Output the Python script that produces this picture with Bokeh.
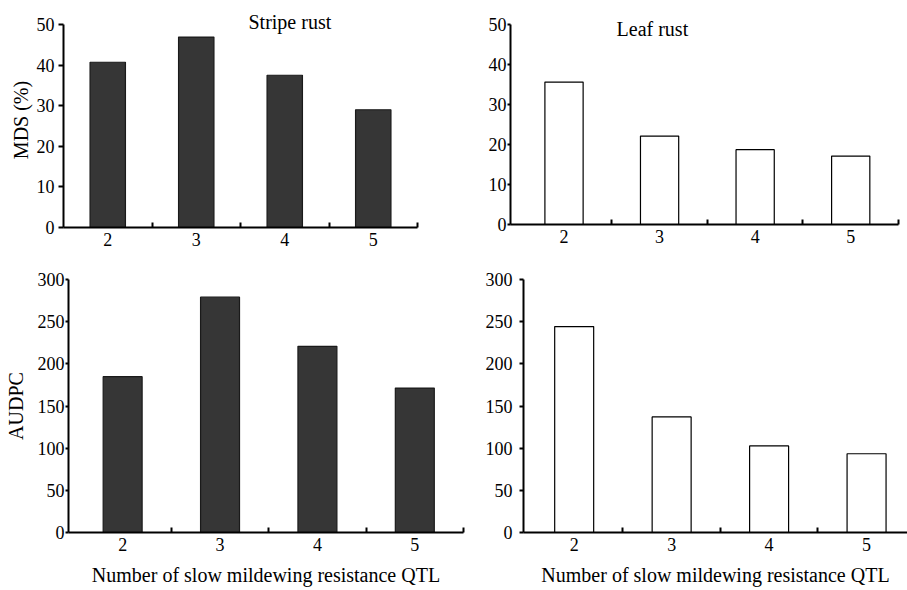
from bokeh.plotting import figure
from bokeh.layouts import row, column
from bokeh.models import Range1d, FixedTicker, Label
from bokeh.embed import file_html
from bokeh.resources import INLINE

# ---- data ----
qtl = [2, 3, 4, 5]
qtl_labels = ["2", "3", "4", "5"]
mds_stripe = [40.7, 46.9, 37.5, 29.0]
mds_leaf = [35.6, 22.1, 18.7, 17.1]
audpc_stripe = [184.8, 279.0, 220.8, 171.3]
audpc_leaf = [244.2, 137.0, 102.6, 93.4]
mds_ticks = [0, 10, 20, 30, 40, 50]
audpc_ticks = [0, 50, 100, 150, 200, 250, 300]
boundaries = [2.5, 3.5, 4.5, 5.5]

FONT = "'Liberation Serif', 'Times New Roman', serif"


def make_panel(values, fill, xr, yr, ybounds, yticks, geom, ytick, ylabel=None, xlabel=None):
    mbl, fw, mbr, mbt, fh, mbb = geom
    tick_out, lab_stand, ax_stand = ytick
    p = figure(frame_width=fw, frame_height=fh, x_range=Range1d(*xr), y_range=Range1d(*yr),
               output_backend="svg", toolbar_location=None,
               min_border_left=mbl, min_border_right=mbr, min_border_top=mbt, min_border_bottom=mbb)
    p.outline_line_color = None
    p.xgrid.visible = False
    p.ygrid.visible = False
    p.vbar(x=qtl, top=values, width=0.4, bottom=0, fill_color=fill,
           line_color="#1a1a1a" if fill != "white" else "black", line_width=1.2)

    xa = p.xaxis[0]
    xa.ticker = FixedTicker(ticks=qtl, minor_ticks=boundaries)
    xa.major_label_overrides = {q: s for q, s in zip(qtl, qtl_labels)}
    xa.axis_line_width = 2
    xa.axis_line_color = "black"
    xa.major_tick_in = 0
    xa.major_tick_out = 0
    xa.minor_tick_in = 5
    xa.minor_tick_out = 0
    xa.minor_tick_line_width = 2
    xa.minor_tick_line_color = "black"
    xa.major_label_standoff = 5
    xa.major_label_text_font = FONT
    xa.major_label_text_font_size = "18px"
    xa.major_label_text_color = "black"
    if xlabel:
        xa.axis_label = xlabel
        xa.axis_label_text_font = FONT
        xa.axis_label_text_font_size = "20px"
        xa.axis_label_text_font_style = "normal"
        xa.axis_label_text_color = "black"
        xa.axis_label_standoff = 10

    ya = p.yaxis[0]
    ya.ticker = FixedTicker(ticks=yticks, minor_ticks=[])
    ya.bounds = ybounds
    ya.axis_line_width = 2
    ya.axis_line_color = "black"
    ya.major_tick_in = 0
    ya.major_tick_out = tick_out
    ya.major_tick_line_width = 2
    ya.major_tick_line_color = "black"
    ya.minor_tick_in = 0
    ya.minor_tick_out = 0
    ya.major_label_standoff = lab_stand
    ya.major_label_text_font = FONT
    ya.major_label_text_font_size = "18px"
    ya.major_label_text_color = "black"
    if ylabel:
        ya.axis_label = ylabel
        ya.axis_label_text_font = FONT
        ya.axis_label_text_font_size = "20px"
        ya.axis_label_text_font_style = "normal"
        ya.axis_label_text_color = "black"
        ya.axis_label_standoff = ax_stand
    return p


# top row: frame extended upward (axis bounded at 0-50) so the panel titles are not clipped
p1 = make_panel(mds_stripe, "#363636", (1.5, 5.5), (0, 215 / 4.06), (0, 50), mds_ticks,
                (63, 354, 43, 12, 215, 26), (5, 4, 2), ylabel="MDS (%)")
p1.add_layout(Label(x=3.59, y=50.5, text="Stripe rust", text_font=FONT, text_font_size="20px",
                    text_baseline="alphabetic", text_color="black"))

p2 = make_panel(mds_leaf, "white", (1.44, 5.5), (0, 53), (0, 50), mds_ticks,
                (50, 388, 9, 12, 212, 29), (3, 1, 2))
p2.add_layout(Label(x=2.55, y=48.9, text="Leaf rust", text_font=FONT, text_font_size="20px",
                    text_baseline="alphabetic", text_color="black"))

p3 = make_panel(audpc_stripe, "#363636", (1.444, 5.5), (0, 300), (0, 300), audpc_ticks,
                (68, 395, 7, 25, 253, 59), (3, 1, 8), ylabel="AUDPC",
                xlabel="Number of slow mildewing resistance QTL")

p4 = make_panel(audpc_leaf, "white", (1.48, 5.42), (0, 300), (0, 300), audpc_ticks,
                (53, 384, 0, 26, 253, 58), (4, 7, 2),
                xlabel="Number of slow mildewing resistance QTL")

layout = column(row(p1, p2, spacing=0), row(p3, p4, spacing=0), spacing=0)

open("out.html", "w").write(file_html(layout, INLINE))
